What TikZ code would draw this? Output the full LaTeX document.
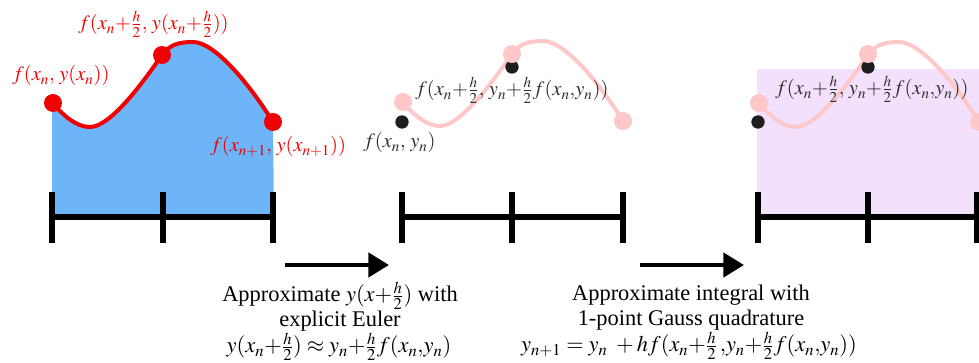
\documentclass[tikz,border=0pt]{standalone}
\usepackage{mathptmx}
\usepackage{fontspec}
\setmainfont{Liberation Serif}
\usetikzlibrary{arrows.meta}
\definecolor{areablue}{RGB}{109,180,248}
\definecolor{areapurple}{RGB}{243,224,252}
\definecolor{wavepink}{RGB}{255,200,200}
\definecolor{wavered}{RGB}{240,0,0}
\definecolor{dotblack}{RGB}{30,30,30}
\definecolor{labelgray}{RGB}{45,45,45}

% one step of the solution curve, in pixel coordinates of the first panel
\newcommand{\wavecurve}{(53,103) .. controls (65,118) and (78,127) .. (90,127)
  .. controls (112,127) and (148,75) .. (162,55)
  .. controls (170,44) and (180,42) .. (193,42)
  .. controls (215,42) and (250,85) .. (273,122)}

\begin{document}
\begin{tikzpicture}[x=0.75pt, y=-0.75pt,
  every node/.style={font=\fontsize{16.8}{19}\selectfont, inner sep=0pt},
  axisline/.style={line width=3.9pt},
  tickline/.style={line width=5pt},
  bigarrow/.style={line width=3.4pt, -{Triangle[length=15.5pt, width=18pt]}},
  reddot/.style={circle, fill=wavered, minimum size=13.5pt},
  pinkdot/.style={circle, fill=wavepink, minimum size=13.5pt},
  blackdot/.style={circle, fill=dotblack, minimum size=10pt},
  redlbl/.style={anchor=base west, text=wavered, font=\fontsize{15.3}{18}\selectfont},
  graylbl/.style={anchor=base west, text=labelgray, font=\fontsize{15.3}{18}\selectfont},
  note/.style={anchor=base}]
\useasboundingbox (0,0) rectangle (979,363);

% panel 1: exact integral
\fill[areablue] \wavecurve -- (274,217) -- (52,217) -- (52,103) -- cycle;
\draw[wavered, line width=3pt] \wavecurve;
\node[reddot] (r1) at (53,103) {};
\node[reddot] (r2) at (162,55) {};
\node[reddot] (r3) at (273,122) {};
\node[redlbl] (lr1) at (12,81) {$f(x_n,\, y(x_n))$};
\node[redlbl] (lr2) at (78,30) {$f(x_n{+}\frac{h}{2},\, y(x_n{+}\frac{h}{2}))$};
\node[redlbl] (lr3) at (210,152) {$f(x_{n+1},\, y(x_{n+1}))$};

% panel 2: Euler half step
\begin{scope}[shift={(350,-1)}]
\draw[wavepink, line width=3pt] \wavecurve;
\end{scope}
\node[blackdot] (b1) at (402,122) {};
\node[blackdot] (b2) at (512,67) {};
\node[pinkdot] (p1) at (403,102) {};
\node[pinkdot] (p2) at (512,54) {};
\node[pinkdot] (p3) at (623,121) {};
\node[graylbl] (lb1) at (363,148) {$f(x_n,\, y_n)$};
\node[graylbl] (lb2) at (415,96) {$f(x_n{+}\frac{h}{2},\, y_n{+}\frac{h}{2}f(x_n{,}y_n))$};

% panel 3: midpoint quadrature
\fill[areapurple] (757,69) rectangle (979,217);
\begin{scope}[shift={(706,0)}]
\draw[wavepink, line width=3pt] \wavecurve;
\end{scope}
\node[blackdot] (c1) at (758,122) {};
\node[blackdot] (c2) at (868,67) {};
\node[pinkdot] (q1) at (759,103) {};
\node[pinkdot] (q2) at (868,54) {};
\node[pinkdot] (q3) at (979,122) {};
\node[graylbl] (lc2) at (775,95) {$f(x_n{+}\frac{h}{2},\, y_n{+}\frac{h}{2}f(x_n{,}y_n))$};

% axes
\draw[axisline] (52,217) -- (273,217);
\draw[axisline] (402,217) -- (623,217);
\draw[axisline] (758,217) -- (979,217);
\foreach \tx in {52,163,273,402,512,623,758,868,977}
  \draw[tickline] (\tx,192) -- (\tx,243);

% arrows between panels
\coordinate (a1s) at (285,265);
\coordinate (a1e) at (389,265);
\coordinate (a2s) at (640,265);
\coordinate (a2e) at (744,265);
\draw[bigarrow] (a1s) -- (a1e);
\draw[bigarrow] (a2s) -- (a2e);

% captions
\node[note] (n1) at (340,302) {Approximate \smash{$y(x{+}\frac{h}{2})$} with};
\node[note] (n2) at (340,327) {explicit Euler};
\node[note] (n3) at (339,353) {$y(x_n{+}\frac{h}{2}) \approx y_n{+}\frac{h}{2}f(x_n{,}y_n)$};
\node[note] (m1) at (691,301) {Approximate integral with};
\node[note] (m2) at (691,326) {1-point Gauss quadrature};
\node[note] (m3) at (689,352) {$y_{n+1} = y_n\ + hf(x_n{+}\frac{h}{2}\,{,}y_n{+}\frac{h}{2}f(x_n{,}y_n))$};
\end{tikzpicture}
\end{document}
